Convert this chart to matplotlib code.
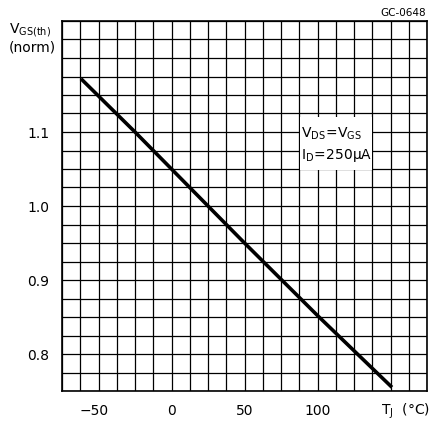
import matplotlib
matplotlib.use("Agg")
import matplotlib.pyplot as plt
import numpy as np
from matplotlib.patches import Rectangle
import matplotlib.transforms as mtransforms

# Data
temp_c = [-62, -25, 25, 50, 100, 151]
vgs_norm = [1.172, 1.100, 1.000, 0.950, 0.852, 0.755]

x_ticks = [-50, 0, 50, 100]
x_tick_labels = ["\u221250", "0", "50", "100"]
y_ticks = [0.8, 0.9, 1.0, 1.1]
y_tick_labels = ["0.8", "0.9", "1.0", "1.1"]

plt.rcParams['font.family'] = ['DejaVu Sans']
plt.rcParams['mathtext.fontset'] = 'dejavusans'

fig = plt.figure(figsize=(4.30, 4.23), dpi=100)
ax = fig.add_axes([62/430, 32/423, 365/430, 370/423])

ax.set_xlim(-75, 175)
ax.set_ylim(0.75, 1.25)

ax.set_xticks(np.arange(-75, 175.1, 12.5), minor=True)
ax.set_yticks(np.arange(0.75, 1.2501, 0.025), minor=True)
ax.set_xticks(x_ticks)
ax.set_xticklabels(x_tick_labels)
ax.set_yticks(y_ticks)
ax.set_yticklabels(y_tick_labels)

ax.set_axisbelow(True)
ax.grid(True, which='both', color='black', linewidth=0.9)
ax.tick_params(which='both', length=0, labelsize=10, pad=9, colors='black')

# nudge the "-50" label slightly left as in the reference
lbl = ax.get_xticklabels()[0]
lbl.set_transform(lbl.get_transform() +
                  mtransforms.ScaledTranslation(-4/100, 0, fig.dpi_scale_trans))

for s in ax.spines.values():
    s.set_linewidth(1.2)
    s.set_color('black')

ax.plot(temp_c, vgs_norm, color='black', linewidth=2.6, solid_capstyle='butt', zorder=3)

# white box with condition text
ax.add_patch(Rectangle((88, 1.049), 49.5, 0.071, facecolor='white',
                       edgecolor='none', zorder=2))
ax.text(89, 1.098, r"$\mathrm{V}_{\mathrm{DS}}\!=\!\mathrm{V}_{\mathrm{GS}}$", fontsize=10,
        ha='left', va='center', zorder=4)
ax.text(89, 1.068, r"$\mathrm{I}_{\mathrm{D}}\!=\!\mathrm{250\mu A}$", fontsize=10,
        ha='left', va='center', zorder=4)

# axis titles
fig.text(9/430, 1 - 21/423, "$\\mathrm{V}_{\\mathrm{GS(th)}}$\n(norm)", ha='left', va='top',
         fontsize=10, linespacing=1.1)
ax.text(160, -0.03, r"$\mathrm{T}_{\mathrm{J}}$  (°C)", transform=ax.get_xaxis_transform(),
        ha='center', va='top', fontsize=10)
fig.text(426/430, 1 - 8/423, "GC-0648", ha='right', va='top', fontsize=7.5)

fig.savefig("out.png", dpi=100)
